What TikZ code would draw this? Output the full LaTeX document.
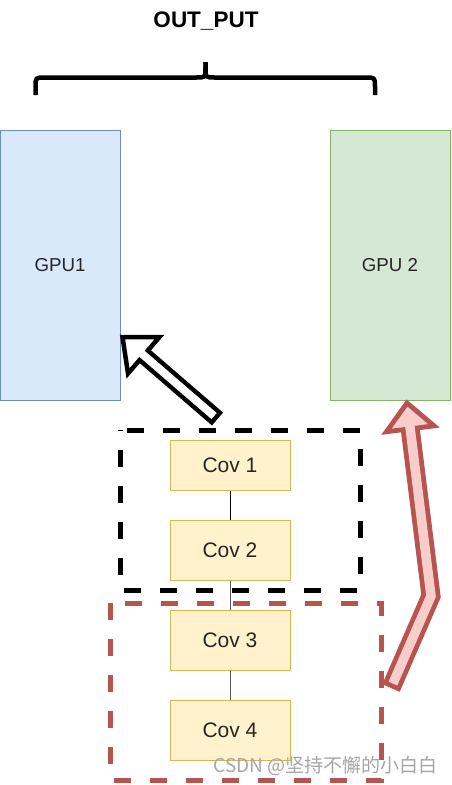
\documentclass[tikz,border=0pt]{standalone}
\usepackage{fontspec}
\setmainfont{Liberation Sans}
\newfontfamily\cjkfont{Noto Sans CJK SC}
\usetikzlibrary{calc}
\definecolor{gpuAfill}{HTML}{DAE8FC}
\definecolor{gpuAline}{HTML}{6C8EBF}
\definecolor{gpuBfill}{HTML}{D5E8D4}
\definecolor{gpuBline}{HTML}{82B366}
\definecolor{covfill}{HTML}{FFF2CC}
\definecolor{covline}{HTML}{D6B656}
\definecolor{redc}{HTML}{B85450}
\definecolor{pinkc}{HTML}{F8CECC}
\tikzset{
  gpubox/.style={draw, line width=1pt, minimum width=120pt, minimum height=270pt, inner sep=0pt,
    font=\fontsize{18.7}{22}\selectfont, text=black!85},
  covbox/.style={draw=covline, fill=covfill, line width=1pt, minimum width=120pt, inner sep=0pt,
    font=\fontsize{21}{25}\selectfont, text=black!85},
  groupbox/.style={line width=5pt, dash pattern=on 17pt off 19pt, dash phase=29pt},
  bracepath/.style={line width=4.5pt, line join=round},
  link/.style={line width=0.9pt}
}
\begin{document}
\begin{tikzpicture}[x=1pt,y=-1pt]
\useasboundingbox[fill=white] (0,0) rectangle (451,785);

% GPUs
\node[gpubox, fill=gpuAfill, draw=gpuAline] (gpu1) at (60,265) {GPU1};
\node[gpubox, fill=gpuBfill, draw=gpuBline] (gpu2) at (390,265) {GPU 2};

% title and brace
\node[font=\bfseries\fontsize{22.5}{26}\selectfont, inner sep=0pt] (out) at (206,21) {OUT\_PUT};
\coordinate (brL) at (35.5,95);
\coordinate (brM) at (205.5,62);
\coordinate (brR) at (375,95);
\draw[bracepath] (brL) -- (35.5,87) .. controls (35.5,77.5) .. (45,77.5) -- (196,77.5)
  .. controls (205.5,77.5) .. (205.5,69) -- (brM);
\draw[bracepath] (brM) -- (205.5,69) .. controls (205.5,77.5) .. (215,77.5) -- (365.5,77.5)
  .. controls (375,77.5) .. (375,87) -- (brR);

% convolution layers
\node[covbox, minimum height=50pt] (c1) at (230,465) {Cov 1};
\node[covbox, minimum height=60pt] (c2) at (230,550) {Cov 2};
\node[covbox, minimum height=60pt] (c3) at (230,640) {Cov 3};
\node[covbox, minimum height=60pt] (c4) at (230,730) {Cov 4};
\draw[link, black] (c1) -- (c2);
\draw[link, black!65] (c2) -- (c3);
\draw[link, black!65] (c3) -- (c4);

% groups
\draw[groupbox, black] (120,430) -- (360,430) -- (360,590) -- (120,590) -- cycle;
\draw[groupbox, redc, dash phase=22pt] (110.5,603) -- (381,603) -- (381,780) -- (110.5,780) -- cycle;

% black block arrow (group 1 -> GPU1)
\coordinate (bT) at (217.5,419);
\coordinate (bP) at (122.5,337);
\coordinate (bB) at ($(bP)!28pt!(bT)$);
\draw[line width=17pt, black] (bT) -- (bB);
\draw[line width=4.5pt, fill=white, line join=miter] (bP) -- ($(bB)!24pt!90:(bP)$) -- ($(bB)!24pt!-90:(bP)$) -- cycle;
\draw[line width=8pt, white] ($(bT)!4.5pt!(bB)$) -- ($(bB)!-3pt!(bT)$);

% red block arrow (group 2 -> GPU2)
\coordinate (rT) at (391,688);
\coordinate (rK) at (431,596);
\coordinate (rP) at (407,403);
\coordinate (rB) at ($(rP)!26pt!(rK)$);
\draw[line width=19pt, redc, line join=miter] (rT) -- (rK) -- (rB);
\draw[line width=4.8pt, draw=redc, fill=pinkc, line join=miter] (rP) -- ($(rB)!24pt!90:(rP)$) -- ($(rB)!24pt!-90:(rP)$) -- cycle;
\draw[line width=9.5pt, pinkc, line join=miter] ($(rT)!4.8pt!(rK)$) -- (rK) -- ($(rB)!-3pt!(rK)$);

% watermark
\node[anchor=east, inner sep=0pt, font=\cjkfont\fontsize{19}{22}\selectfont, text=black!35] (wm) at (438,766) {CSDN @坚持不懈的小白白};
\end{tikzpicture}
\end{document}
